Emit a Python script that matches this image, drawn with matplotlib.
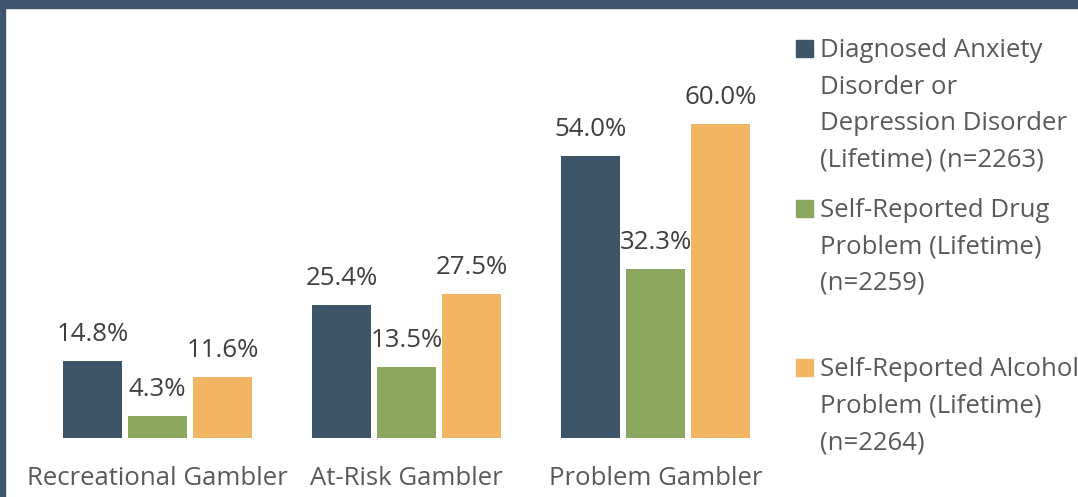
import matplotlib.pyplot as plt
from matplotlib.patches import Rectangle

# datos del grafico
categorias = ["Recreational Gambler", "At-Risk Gambler", "Problem Gambler"]
ansiedad = [14.8, 25.4, 54.0]
drogas = [4.3, 13.5, 32.3]
alcohol = [11.6, 27.5, 60.0]
series = [ansiedad, drogas, alcohol]
etiquetas_leyenda = [
    ["Diagnosed Anxiety", "Disorder or", "Depression Disorder", "(Lifetime) (n=2263)"],
    ["Self-Reported Drug", "Problem (Lifetime)", "(n=2259)"],
    ["Self-Reported Alcohol", "Problem (Lifetime)", "(n=2264)"],
]

colores = ["#3d5569", "#8ba65e", "#f2b563"]
color_borde = "#3d566b"

plt.rcParams['font.family'] = ['Open Sans', 'DejaVu Sans']

W, H = 1078, 497
fig = plt.figure(figsize=(W / 100, H / 100), dpi=100)
fig.patch.set_facecolor("white")

# marco oscuro arriba y a la izquierda
fig.patches.append(Rectangle((0, (H - 8) / H), 1, 8 / H, transform=fig.transFigure,
                             color=color_borde, zorder=0))
fig.patches.append(Rectangle((0, 0), 5 / W, 1, transform=fig.transFigure,
                             color=color_borde, zorder=0))

# ejes colocados en pixeles
ax = fig.add_axes([8 / W, 59 / H, 762 / W, 430 / H])
ax.set_xlim(-0.6004, 2.4598)
ax.set_ylim(0, 82.2)
ax.axis("off")

ancho = 0.237
paso = 0.261
for i, valores in enumerate(series):
    for j, v in enumerate(valores):
        x = j + (i - 1) * paso
        ax.bar(x, v, width=ancho, color=colores[i])
        ax.annotate(f"{v:.1f}%", (x, v), xytext=(0, 20), textcoords="offset pixels",
                    ha="center", va="baseline", fontsize=18.6, color="#3f3f3f")

for j, cat in enumerate(categorias):
    ax.annotate(cat, (j, 0), xytext=(0, -47), textcoords="offset pixels",
                ha="center", va="baseline", fontsize=18.5, color="#595959",
                annotation_clip=False)

# leyenda dibujada a mano
bases = [57, 217, 376]
interlinea = 36.5
for k, lineas in enumerate(etiquetas_leyenda):
    y0 = bases[k]
    fig.patches.append(Rectangle((796 / W, (H - y0) / H), 17 / W, 17 / H,
                                 transform=fig.transFigure, color=colores[k]))
    for n, linea in enumerate(lineas):
        fig.text(820 / W, (H - (y0 + n * interlinea)) / H, linea, ha="left", va="baseline",
                 fontsize=18.5, color="#595959")

fig.savefig("out.png", dpi=100)
